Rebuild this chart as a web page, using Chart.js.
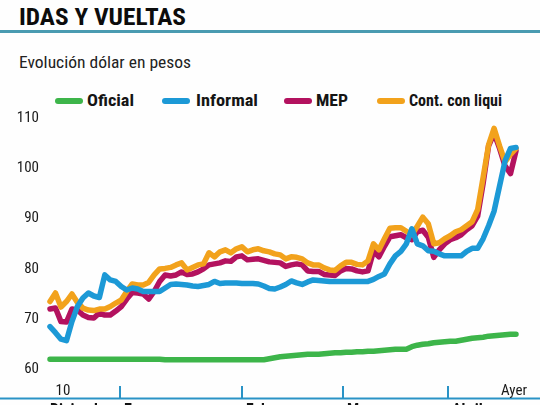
<!DOCTYPE html>
<html>
<head>
<meta charset="utf-8">
<script src="https://cdn.jsdelivr.net/npm/chart.js@4/dist/chart.umd.min.js"></script>
<style>
  html, body { margin: 0; padding: 0; background: #fff; }
  #wrap { position: relative; width: 540px; height: 405px; overflow: hidden; background: #fefefe; }
  #c { position: absolute; left: 0; top: 0; }
  .txt { position: absolute; white-space: nowrap; transform-origin: 0 50%; color: #161616;
         font-family: 'Liberation Sans Narrow', 'Roboto Condensed', 'Arial Narrow', Roboto, sans-serif; }
  #title { left: 19px; top: 3px; font-size: 24px; font-weight: bold; line-height: 28px; color: #0c0c0c; }
  #rule { position: absolute; left: 0; top: 30px; width: 540px; height: 3px; background: #4a9bb1; }
  #sub { left: 19px; top: 53px; font-size: 16px; line-height: 20px; color: #222; }
  .sw { position: absolute; height: 6px; border-radius: 3px; top: 98px; }
  .lg { top: 91px; font-size: 16px; font-weight: bold; line-height: 20px; color: #151515; }
</style>
</head>
<body>
<div id="wrap">
  <div id="title" class="txt">IDAS Y VUELTAS</div>
  <div id="rule"></div>
  <div id="sub" class="txt">Evolución dólar en pesos</div>
  <div id="legend"></div>
  <canvas id="c" width="540" height="405"></canvas>
</div>
<script>
// ---- Data (business days from 10 Dec to "Ayer") ----
const seriesNames = ['Oficial', 'Informal', 'MEP', 'Cont. con liqui'];
const seriesColors = ['#3db54a', '#1c99d6', '#b3125f', '#f2a21c'];

const oficial = [
  62.0, 62.0, 62.0, 62.0, 62.0, 62.0, 62.0, 62.0, 62.0, 62.0,
  62.0, 62.0, 62.0, 62.0, 62.0, 62.0, 62.0, 62.0, 62.0, 62.0,
  62.0, 61.9, 61.9, 61.9, 61.9, 61.9, 61.9, 61.9, 61.9, 61.9,
  61.9, 61.9, 61.9, 61.9, 61.9, 61.9, 61.9, 61.9, 61.9, 61.9,
  62.1, 62.3, 62.5, 62.6, 62.7, 62.8, 62.9, 63.0, 63.0, 63.0,
  63.1, 63.2, 63.3, 63.3, 63.4, 63.4, 63.5, 63.5, 63.6, 63.6,
  63.7, 63.8, 63.9, 64.0, 64.0, 64.0, 64.5, 64.8, 65.0, 65.1,
  65.3, 65.4, 65.5, 65.6, 65.6, 65.8, 66.0, 66.2, 66.3, 66.4,
  66.6, 66.7, 66.8, 66.9, 67.0, 67.0
];
const informal = [
  68.5, 67.3, 66.0, 65.7, 69.5, 72.5, 74.2, 75.2, 74.6, 74.3,
  78.8, 77.8, 77.5, 76.5, 75.8, 76.2, 76.0, 75.5, 75.5, 75.5,
  75.5, 76.2, 76.9, 77.0, 76.9, 76.8, 76.6, 76.5, 76.7, 76.9,
  77.5, 77.1, 77.2, 77.2, 77.2, 77.1, 77.1, 77.1, 77.0, 76.6,
  76.1, 76.0, 76.4, 76.9, 77.6, 77.2, 76.9, 77.4, 77.8, 77.7,
  77.6, 77.5, 77.5, 77.5, 77.5, 77.5, 77.5, 77.5, 77.5, 77.9,
  78.5, 79.0, 81.0, 82.6, 83.5, 85.0, 88.0, 85.0, 84.6, 83.6,
  83.5, 83.0, 82.6, 82.6, 82.6, 82.6, 83.5, 84.1, 84.1, 86.0,
  88.6, 91.5, 96.5, 101.5, 104.0, 104.2
];
const mep = [
  72.0, 72.2, 69.5, 69.4, 72.0, 71.8, 70.8, 70.3, 70.2, 71.2,
  70.8, 70.8, 71.6, 72.5, 74.0, 75.3, 75.2, 75.0, 74.0, 75.5,
  77.5, 78.8, 78.6, 78.8, 79.4, 78.9, 79.0, 79.4, 80.0, 80.8,
  81.0, 81.2, 81.6, 81.5, 82.4, 82.6, 81.8, 81.9, 82.0, 81.7,
  81.4, 81.3, 81.2, 80.5, 80.8, 81.0, 80.8, 79.6, 79.5, 79.5,
  78.9, 78.8, 78.7, 79.6, 80.1, 80.0, 79.6, 79.4, 79.6, 83.5,
  82.4, 84.5, 86.4, 86.6, 86.8, 86.2, 85.8, 87.4, 87.7, 86.3,
  82.3, 83.8, 85.0, 85.8, 86.2, 86.8, 87.8, 88.6, 90.5, 97.0,
  104.5, 107.0, 104.0, 100.5, 99.0, 103.5
];
const contConLiqui = [
  73.5, 75.2, 72.4, 73.5, 75.0, 73.3, 72.2, 71.8, 71.7, 72.0,
  72.0, 72.5, 73.2, 73.8, 75.5, 77.0, 76.8, 76.8, 77.3, 78.8,
  80.0, 80.1, 80.3, 80.8, 81.2, 79.8, 80.3, 80.8, 81.0, 83.2,
  82.4, 83.4, 83.8, 83.2, 84.0, 84.4, 83.4, 83.8, 84.0, 83.6,
  83.4, 83.0, 82.8, 82.0, 82.4, 82.3, 82.0, 81.2, 80.8, 80.8,
  80.2, 79.8, 79.7, 80.6, 81.3, 81.3, 80.9, 80.8, 81.6, 85.0,
  83.8, 86.0, 88.1, 88.2, 88.2, 87.5, 86.8, 88.5, 90.3, 89.0,
  85.0, 85.2, 86.0, 86.6, 87.4, 87.8, 88.6, 89.4, 91.8, 98.2,
  104.7, 108.0, 104.5, 101.3, 102.8, 104.0
];
const days = oficial.map((_, i) => i);            // business-day index
const yTicks = [60, 70, 80, 90, 100, 110];
const months = ['Diciembre', 'Enero', 'Febrero', 'Marzo', 'Abril'];
const monthStarts = [0, 12.77, 35.0, 53.45, 72.6]; // month boundaries, in business-day index
const firstLabel = '10';
const lastLabel = 'Ayer';

// ---- Legend (HTML) ----
const legendPos = [[55, 87, 47], [162, 196, 62], [284, 316, 32], [377, 409, 93]];
const legend = document.getElementById('legend');
seriesNames.forEach((name, i) => {
  const sw = document.createElement('div');
  sw.className = 'sw';
  sw.style.left = legendPos[i][0] + 'px';
  sw.style.width = '28px';
  sw.style.background = seriesColors[i];
  legend.appendChild(sw);
  const t = document.createElement('div');
  t.className = 'txt lg';
  t.textContent = name;
  t.style.left = legendPos[i][1] + 'px';
  t.dataset.w = legendPos[i][2];
  legend.appendChild(t);
});
function fit(el, w) {
  const r = el.getBoundingClientRect().width;
  if (r > 0) el.style.transform = 'scaleX(' + (w / r) + ')';
}
fit(document.getElementById('title'), 167);
fit(document.getElementById('sub'), 172);
document.querySelectorAll('.lg').forEach(el => fit(el, +el.dataset.w));

// ---- Chart ----
const FONT = "'Liberation Sans Narrow', 'Roboto Condensed', 'Arial Narrow', Roboto, sans-serif";
const bottomAxis = {
  id: 'bottomAxis',
  afterDraw(chart) {
    const ctx = chart.ctx, x = chart.scales.x;
    ctx.save();
    ctx.strokeStyle = '#2a93c6';
    ctx.lineWidth = 2;
    ctx.beginPath();
    ctx.moveTo(0, 398.5); ctx.lineTo(540, 398.5);
    ctx.stroke();
    monthStarts.forEach((m, i) => {
      const px = Math.round(x.getPixelForValue(m));
      if (i > 0) {
        ctx.beginPath();
        ctx.moveTo(px, 386); ctx.lineTo(px, 398);
        ctx.stroke();
      }
      ctx.fillStyle = '#111';
      ctx.font = 'bold 16px ' + FONT;
      ctx.textBaseline = 'top';
      ctx.textAlign = 'left';
      ctx.fillText(months[i], i === 0 ? px : px + 4, 402.5);
    });
    ctx.fillStyle = '#1a1a1a';
    ctx.font = '15px ' + FONT;
    ctx.textBaseline = 'alphabetic';
    ctx.textAlign = 'center';
    ctx.fillText(firstLabel, x.getPixelForValue(0) + 13, 395);
    ctx.textAlign = 'right';
    ctx.fillText(lastLabel, x.getPixelForValue(days.length - 1) + 11, 395);
    ctx.restore();
  }
};

const mk = (label, data, color, order) => ({
  label, data, borderColor: color, backgroundColor: color, borderWidth: 5.5,
  pointRadius: 0, tension: 0, borderJoinStyle: 'round', borderCapStyle: 'round', order, clip: false
});

new Chart(document.getElementById('c'), {
  type: 'line',
  data: {
    labels: days,
    datasets: [
      mk(seriesNames[0], oficial, seriesColors[0], 3),
      mk(seriesNames[1], informal, seriesColors[1], 0),
      mk(seriesNames[2], mep, seriesColors[2], 2),
      mk(seriesNames[3], contConLiqui, seriesColors[3], 1)
    ]
  },
  options: {
    responsive: false,
    animation: false,
    events: [],
    layout: { padding: { left: 0, right: 24, top: 118.3, bottom: 35.7 } },
    plugins: { legend: { display: false }, tooltip: { enabled: false } },
    scales: {
      x: { type: 'category', display: false, offset: false },
      y: {
        min: 60, max: 110,
        afterFit(s) { s.width = 50; },
        afterBuildTicks(s) { s.ticks = yTicks.map(v => ({ value: v })); },
        grid: { display: false, drawTicks: false },
        border: { display: false },
        ticks: { padding: 11, color: '#1a1a1a', font: { family: FONT, size: 15 } }
      }
    }
  },
  plugins: [bottomAxis]
});
</script>
</body>
</html>
